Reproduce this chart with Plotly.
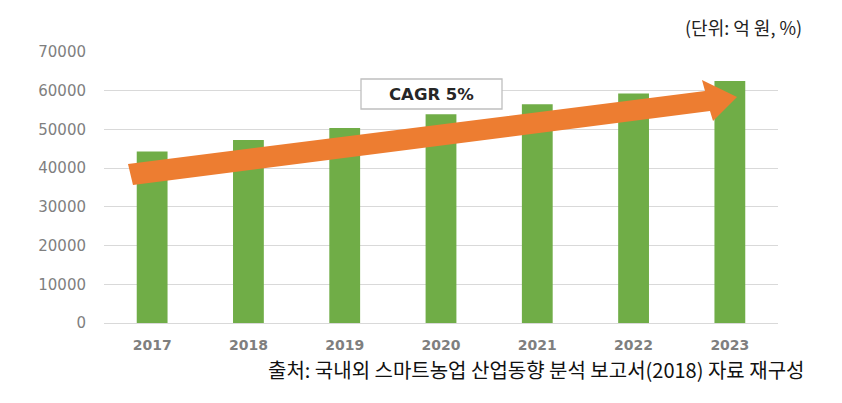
import plotly.graph_objects as go

years = ["2017", "2018", "2019", "2020", "2021", "2022", "2023"]
market = [44300, 47300, 50400, 53900, 56500, 59300, 62500]
y_ticks = [0, 10000, 20000, 30000, 40000, 50000, 60000, 70000]
unit_label = "(단위: 억 원, %)"
source_label = "출처: 국내외 스마트농업 산업동향 분석 보고서(2018) 자료 재구성"
cagr_label = "CAGR 5%"

OFF = 8  # page body margin
W, H = 842 - OFF, 403 - OFF
L, R, T, B = 104 - OFF, 64, 52 - OFF, 80
PW, PH = W - L - R, H - T - B


def px(x, y):
    """screen pixel -> paper coords"""
    x -= OFF
    y -= OFF
    return (x - L) / PW, (H - B - y) / PH


fig = go.Figure()
fig.add_trace(go.Bar(
    x=years, y=market, marker=dict(color="#70AD47", line=dict(width=0)),
    width=0.32, hoverinfo="x+y",
))

# orange trend arrow (decoration, paper coords)
arrow_px = [(128, 164), (705, 91), (702, 80), (737, 97), (713, 121), (710, 111), (133, 185)]
pts = [px(*p) for p in arrow_px]
path = "M " + " L ".join(f"{a:.4f},{b:.4f}" for a, b in pts) + " Z"
fig.add_shape(type="path", path=path, xref="paper", yref="paper",
              fillcolor="#ED7D31", line=dict(width=0), layer="above")

# CAGR box
x0, y0 = px(361, 109)
x1, y1 = px(502, 79)
fig.add_shape(type="rect", xref="paper", yref="paper", x0=x0, y0=y0, x1=x1, y1=y1,
              fillcolor="white", line=dict(color="#BFBFBF", width=1.3), layer="above")
cx, cy = px(431, 94.5)
fig.add_annotation(text=cagr_label, xref="paper", yref="paper", x=cx, y=cy,
                   xanchor="center", yanchor="middle", showarrow=False,
                   font=dict(family="DejaVu Sans", size=16.5, color="#262626", weight="bold"))

ux, uy = px(804, 27)
fig.add_annotation(text=unit_label, xref="paper", yref="paper", x=ux, y=uy,
                   xanchor="right", yanchor="middle", showarrow=False,
                   font=dict(family="Noto Sans CJK KR", size=18, color="#222222"))
sx, sy = px(806, 369)
fig.add_annotation(text=source_label, xref="paper", yref="paper", x=sx, y=sy,
                   xanchor="right", yanchor="middle", showarrow=False,
                   font=dict(family="Noto Sans CJK KR", size=20, color="#111111"))

fig.update_layout(
    width=W, height=H, margin=dict(l=L, r=R, t=T, b=B, pad=0),
    paper_bgcolor="white", plot_bgcolor="white", showlegend=False,
    xaxis=dict(type="category", range=[-0.5, 6.5], showgrid=False,
               showline=True, linecolor="#D9D9D9", linewidth=1.3,
               ticks="", ticklabelstandoff=9,
               tickfont=dict(family="DejaVu Sans", size=14, color="#7F7F7F", weight="bold")),
    yaxis=dict(range=[0, 70000], tickvals=y_ticks, ticktext=[str(v) for v in y_ticks],
               showgrid=True, gridcolor="#D9D9D9", gridwidth=1.3, zeroline=False,
               showline=False, ticks="", ticklabelstandoff=17,
               tickfont=dict(family="DejaVu Sans", size=15, color="#7F7F7F")),
)

fig.write_html("out.html")
